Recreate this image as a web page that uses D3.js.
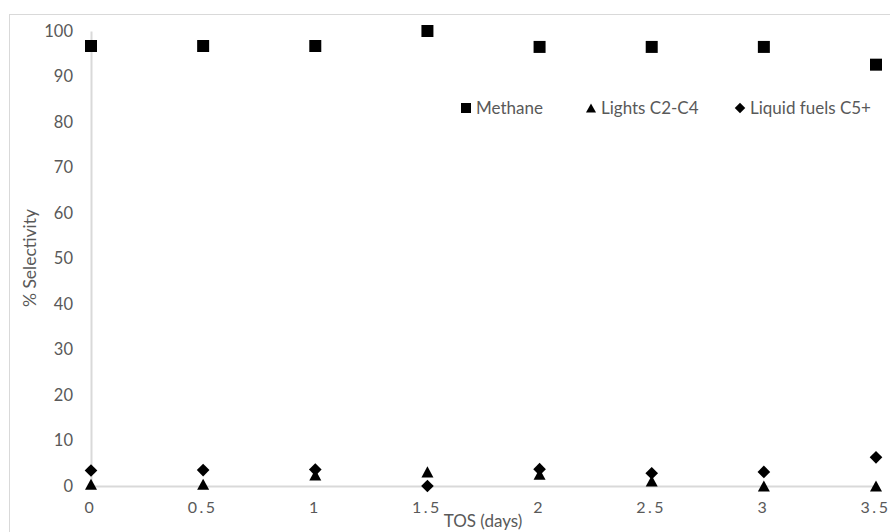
<!DOCTYPE html>
<html>
<head>
<meta charset="utf-8">
<script src="https://cdn.jsdelivr.net/npm/d3@7"></script>
<style>
  html, body { margin: 0; padding: 0; background: #fff; }
  svg { display: block; }
  text { font-family: Lato, "Open Sans", sans-serif; fill: #595959; }
</style>
</head>
<body>
<svg id="chart" width="890" height="532"></svg>
<script>
// Time on stream (days)
const tosDays = [0, 0.5, 1, 1.5, 2, 2.5, 3, 3.5];
// Selectivity (%) per product group
const methane = [96.7, 96.7, 96.7, 100, 96.5, 96.5, 96.5, 92.6];
const lightsC2C4 = [0.4, 0.4, 2.4, 3.1, 2.6, 1.1, 0, 0];
const liquidC5plus = [3.4, 3.5, 3.6, 0, 3.7, 2.8, 3.1, 6.3];

const xTicks = [0, 0.5, 1, 1.5, 2, 2.5, 3, 3.5];
const yTicks = [0, 10, 20, 30, 40, 50, 60, 70, 80, 90, 100];
const seriesNames = ["Methane", "Lights C2-C4", "Liquid fuels C5+"];

const svg = d3.select("#chart");

// outer chart frame
svg.append("rect")
  .attr("x", 9.5).attr("y", 14.5)
  .attr("width", 900).attr("height", 540)
  .attr("fill", "none").attr("stroke", "#d9d9d9").attr("stroke-width", 1);

const x = d3.scaleLinear().domain([0, 3.5]).range([91, 876]);
const y = d3.scaleLinear().domain([0, 100]).range([486, 31]);

// marker shapes, each centred on its data point
const squareSym = { draw(ctx, s) { const h = Math.sqrt(s) / 2; ctx.rect(-h, -h, 2 * h, 2 * h); } };
const triangleSym = { draw(ctx, s) {
  const w = Math.sqrt(s); const h = w * 0.92;
  ctx.moveTo(0, -h / 2); ctx.lineTo(w / 2, h / 2); ctx.lineTo(-w / 2, h / 2); ctx.closePath();
} };
const diamondSym = { draw(ctx, s) {
  const r = Math.sqrt(s) / 2;
  ctx.moveTo(0, -r); ctx.lineTo(r, 0); ctx.lineTo(0, r); ctx.lineTo(-r, 0); ctx.closePath();
} };

// axes
const yAxis = d3.axisLeft(y).tickValues(yTicks).tickSize(0).tickPadding(18);
const gy = svg.append("g").attr("transform", "translate(91,0)").call(yAxis);
gy.select(".domain").attr("stroke", "#d9d9d9").attr("stroke-width", 2);
gy.selectAll("text").attr("font-size", 16.5).style("fill", "#595959")
  .attr("font-family", "Lato, 'Open Sans', sans-serif");

const xAxis = d3.axisBottom(x).tickValues(xTicks).tickSize(0).tickPadding(16)
  .tickFormat(d => String(d));
const gx = svg.append("g").attr("transform", "translate(0,486)").call(xAxis);
gx.select(".domain").attr("stroke", "#d9d9d9").attr("stroke-width", 2);
gx.selectAll("text").attr("font-size", 16).attr("letter-spacing", "2.5px")
  .attr("dx", -1)
  .style("fill", "#595959").attr("font-family", "Lato, 'Open Sans', sans-serif");

// axis titles
svg.append("text").attr("x", 483).attr("y", 527).attr("text-anchor", "middle")
  .attr("font-size", 17).text("TOS (days)");
svg.append("text").attr("transform", "translate(36,258) rotate(-90)")
  .attr("text-anchor", "middle").attr("font-size", 17.5).text("% Selectivity");

// data markers
const series = [
  { name: seriesNames[0], values: methane, sym: squareSym, size: 144 },
  { name: seriesNames[1], values: lightsC2C4, sym: triangleSym, size: 144 },
  { name: seriesNames[2], values: liquidC5plus, sym: diamondSym, size: 160 }
];

series.forEach(s => {
  svg.append("g").selectAll("path")
    .data(tosDays.map((t, i) => [t, s.values[i]]))
    .join("path")
    .attr("transform", d => `translate(${x(d[0])},${y(d[1])})`)
    .attr("d", d3.symbol(s.sym, s.size))
    .attr("fill", "#000");
});

// legend
const legendX = [466, 591, 740];
const legend = svg.append("g");
series.forEach((s, i) => {
  legend.append("path")
    .attr("transform", `translate(${legendX[i]},108)`)
    .attr("d", d3.symbol(s.sym, i === 2 ? 110 : 100))
    .attr("fill", "#000");
  legend.append("text").attr("x", legendX[i] + 10).attr("y", 114)
    .attr("font-size", 17).text(s.name);
});
</script>
</body>
</html>
